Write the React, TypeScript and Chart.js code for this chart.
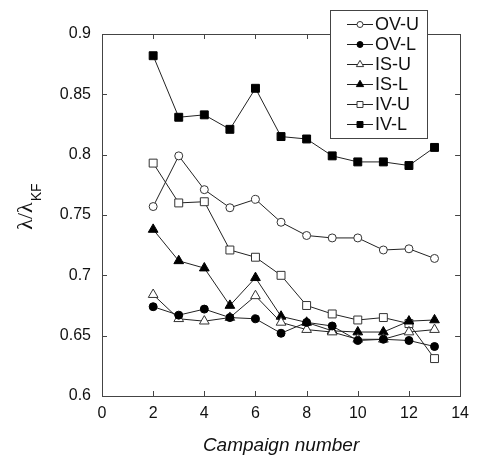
import React, { useEffect, useRef } from "react";
import { Chart, registerables } from "chart.js";

Chart.register(...registerables);

const campaigns = [2, 3, 4, 5, 6, 7, 8, 9, 10, 11, 12, 13];
const ovU = [0.757, 0.799, 0.771, 0.756, 0.763, 0.744, 0.733, 0.731, 0.731, 0.721, 0.722, 0.714];
const ovL = [0.674, 0.667, 0.672, 0.665, 0.664, 0.652, 0.661, 0.658, 0.646, 0.647, 0.646, 0.641];
const isU = [0.684, 0.664, 0.662, 0.665, 0.683, 0.661, 0.655, 0.653, 0.647, 0.647, 0.653, 0.655];
const isL = [0.738, 0.712, 0.706, 0.675, 0.698, 0.666, 0.661, 0.654, 0.653, 0.653, 0.662, 0.663];
const ivU = [0.793, 0.760, 0.761, 0.721, 0.715, 0.700, 0.675, 0.668, 0.663, 0.665, 0.660, 0.631];
const ivL = [0.882, 0.831, 0.833, 0.821, 0.855, 0.815, 0.813, 0.799, 0.794, 0.794, 0.791, 0.806];

const seriesLabels = ["OV-U", "OV-L", "IS-U", "IS-L", "IV-U", "IV-L"];
const seriesValues = [ovU, ovL, isU, isL, ivU, ivL];
const seriesStyles = ["circle", "circle", "triangle", "triangle", "rect", "rect"];
const seriesFilled = [false, true, false, true, false, true];

const xTicks = [0, 2, 4, 6, 8, 10, 12, 14];
const yTicks = [0.6, 0.65, 0.7, 0.75, 0.8, 0.85, 0.9];
const xTitle = "Campaign number";
const yTitleMain = "λ/λ";
const yTitleSub = "KF";

const LINE = "#222";

function pointRadius(style: string) {
  return style === "circle" ? 4 : 5.6;
}

function drawMarker(ctx: CanvasRenderingContext2D, style: string, filled: boolean, x: number, y: number, r: number) {
  ctx.beginPath();
  if (style === "circle") {
    ctx.arc(x, y, r, 0, Math.PI * 2);
  } else if (style === "triangle") {
    const h = r;
    ctx.moveTo(x, y - h);
    ctx.lineTo(x + h * Math.cos(Math.PI / 6), y + h * 0.5);
    ctx.lineTo(x - h * Math.cos(Math.PI / 6), y + h * 0.5);
    ctx.closePath();
  } else {
    const s = r * Math.SQRT1_2;
    ctx.rect(x - s, y - s, 2 * s, 2 * s);
  }
  ctx.fillStyle = filled ? "#000" : "#fff";
  ctx.fill();
  ctx.strokeStyle = filled ? "#000" : "#333";
  ctx.lineWidth = 1;
  ctx.stroke();
}

const framePlugin = {
  id: "frame",
  beforeDatasetsDraw(chart: any) {
    const { ctx, chartArea: a, scales } = chart;
    ctx.save();
    ctx.strokeStyle = "#444";
    ctx.lineWidth = 1;
    ctx.strokeRect(Math.round(a.left) + 0.5, Math.round(a.top) + 0.5, Math.round(a.right - a.left), Math.round(a.bottom - a.top));
    const tl = 5;
    ctx.beginPath();
    for (const v of xTicks) {
      const px = Math.round(scales.x.getPixelForValue(v)) + 0.5;
      ctx.moveTo(px, a.bottom);
      ctx.lineTo(px, a.bottom - tl);
      ctx.moveTo(px, a.top);
      ctx.lineTo(px, a.top + tl);
    }
    for (const v of yTicks) {
      const py = Math.round(scales.y.getPixelForValue(v)) + 0.5;
      ctx.moveTo(a.left, py);
      ctx.lineTo(a.left + tl, py);
      ctx.moveTo(a.right, py);
      ctx.lineTo(a.right - tl, py);
    }
    ctx.stroke();
    ctx.restore();
  },
  afterDraw(chart: any) {
    const { ctx, chartArea: a } = chart;
    ctx.save();
    // x title
    ctx.fillStyle = "#111";
    ctx.font = "italic 19px 'Liberation Sans', Arial, sans-serif";
    ctx.textAlign = "center";
    ctx.textBaseline = "middle";
    ctx.fillText(xTitle, (a.left + a.right) / 2, 446);
    // y title
    ctx.save();
    ctx.translate(32, 207);
    ctx.rotate(-Math.PI / 2);
    const mainFont = "22px 'Liberation Serif', 'DejaVu Serif', serif";
    const subFont = "14px 'Liberation Sans', Arial, sans-serif";
    ctx.font = mainFont;
    const w1 = ctx.measureText(yTitleMain).width;
    ctx.font = subFont;
    const w2 = ctx.measureText(yTitleSub).width;
    const start = -(w1 + w2) / 2;
    ctx.textAlign = "left";
    ctx.textBaseline = "alphabetic";
    ctx.font = mainFont;
    ctx.fillText(yTitleMain, start, 0);
    ctx.font = subFont;
    ctx.fillText(yTitleSub, start + w1 + 1, 9);
    ctx.restore();
    // legend
    const bx = 330, by = 10, bw = 97, bh = 128;
    ctx.fillStyle = "#fff";
    ctx.fillRect(bx, by, bw, bh);
    ctx.strokeStyle = "#444";
    ctx.lineWidth = 1;
    ctx.strokeRect(bx + 0.5, by + 0.5, bw, bh);
    ctx.font = "18px 'Liberation Sans', Arial, sans-serif";
    ctx.textAlign = "left";
    ctx.textBaseline = "middle";
    seriesLabels.forEach((lab, i) => {
      const y = 24 + i * 20;
      ctx.strokeStyle = LINE;
      ctx.beginPath();
      ctx.moveTo(347, y + 0.5);
      ctx.lineTo(373, y + 0.5);
      ctx.stroke();
      const st = seriesStyles[i];
      drawMarker(ctx, st, seriesFilled[i], 360, y + 0.5, st === "circle" ? 3 : 4.2);
      ctx.fillStyle = "#111";
      ctx.fillText(lab, 375, y + 1);
    });
    ctx.restore();
  },
};

export default function App() {
  const ref = useRef<HTMLCanvasElement | null>(null);
  useEffect(() => {
    if (!ref.current) return;
    const datasets = seriesLabels.map((lab, i) => ({
      label: lab,
      data: campaigns.map((c, j) => ({ x: c, y: seriesValues[i][j] })),
      borderColor: LINE,
      borderWidth: 1,
      pointStyle: seriesStyles[i],
      pointRadius: pointRadius(seriesStyles[i]),
      pointBackgroundColor: seriesFilled[i] ? "#000" : "#fff",
      pointBorderColor: seriesFilled[i] ? "#000" : "#333",
      pointBorderWidth: 1,
      fill: false,
      tension: 0,
    }));
    const chart = new Chart(ref.current, {
      type: "line",
      data: { datasets },
      options: {
        responsive: false,
        animation: false,
        events: [],
        layout: { padding: { top: 34, right: 15, left: 0, bottom: 0 } },
        plugins: { legend: { display: false }, tooltip: { enabled: false }, title: { display: false } },
        scales: {
          x: {
            type: "linear",
            min: 0,
            max: 14,
            afterFit: (s: any) => { s.height = 60; },
            afterBuildTicks: (s: any) => { s.ticks = xTicks.map((v) => ({ value: v })); },
            grid: { display: false, drawTicks: false },
            border: { display: false },
            ticks: {
              padding: 8,
              color: "#111",
              font: { size: 16, family: "'Liberation Sans', Arial, sans-serif" },
              callback: (v: any) => String(v),
              autoSkip: false,
              maxRotation: 0,
            },
          },
          y: {
            type: "linear",
            min: 0.6,
            max: 0.9,
            afterFit: (s: any) => { s.width = 102; },
            afterBuildTicks: (s: any) => { s.ticks = yTicks.map((v) => ({ value: v })); },
            grid: { display: false, drawTicks: false },
            border: { display: false },
            ticks: {
              padding: 11,
              color: "#111",
              font: { size: 16, family: "'Liberation Sans', Arial, sans-serif" },
              callback: (v: any) => String(Number(Number(v).toFixed(2))),
              autoSkip: false,
            },
          },
        },
      } as any,
      plugins: [framePlugin],
    });
    return () => chart.destroy();
  }, []);
  return (
    <div style={{ position: "fixed", left: 0, top: 0, width: 477, height: 456, background: "#fff" }}>
      <canvas ref={ref} width={477} height={456} style={{ width: 477, height: 456, display: "block" }} />
    </div>
  );
}
